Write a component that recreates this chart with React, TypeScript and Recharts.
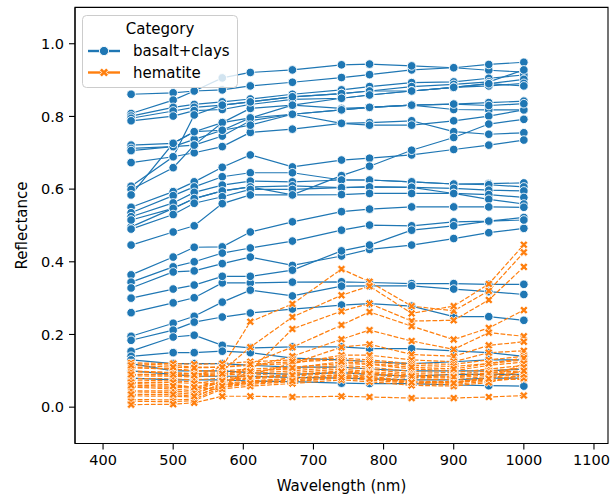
import React from "react";
import { LineChart, Line, XAxis, YAxis, ReferenceArea, Label } from "recharts";

// Reflectance spectra, one row per sample, sampled at the filter wavelengths below.
const WAVELENGTHS = [440, 500, 530, 570, 610, 670, 740, 780, 840, 900, 950, 1000];
const X_TICKS = [400, 500, 600, 700, 800, 900, 1000, 1100];
const Y_TICKS = [0, 0.2, 0.4, 0.6, 0.8, 1.0];
const CATEGORIES = ["basalt+clays", "hematite"];

const BASALT_CLAYS: number[][] = [
  [0.861, 0.865, 0.870, 0.873, 0.884, 0.894, 0.907, 0.915, 0.928, 0.934, 0.927, 0.922],
  [0.808, 0.845, 0.870, 0.906, 0.921, 0.928, 0.942, 0.944, 0.939, 0.934, 0.943, 0.949],
  [0.801, 0.825, 0.833, 0.840, 0.848, 0.861, 0.873, 0.882, 0.893, 0.895, 0.905, 0.914],
  [0.795, 0.815, 0.825, 0.831, 0.840, 0.854, 0.863, 0.870, 0.882, 0.888, 0.895, 0.928],
  [0.788, 0.801, 0.816, 0.819, 0.833, 0.847, 0.850, 0.859, 0.870, 0.880, 0.890, 0.902],
  [0.721, 0.726, 0.758, 0.783, 0.822, 0.831, 0.822, 0.825, 0.831, 0.834, 0.838, 0.842],
  [0.712, 0.717, 0.737, 0.762, 0.796, 0.806, 0.818, 0.825, 0.831, 0.819, 0.818, 0.818],
  [0.706, 0.717, 0.721, 0.746, 0.788, 0.806, 0.781, 0.783, 0.788, 0.758, 0.751, 0.755],
  [0.673, 0.689, 0.700, 0.717, 0.756, 0.765, 0.781, 0.776, 0.776, 0.788, 0.801, 0.818],
  [0.608, 0.689, 0.804, 0.831, 0.840, 0.854, 0.863, 0.870, 0.870, 0.880, 0.884, 0.891],
  [0.599, 0.659, 0.721, 0.783, 0.796, 0.831, 0.850, 0.859, 0.870, 0.880, 0.890, 0.884],
  [0.584, 0.726, 0.758, 0.762, 0.776, 0.806, 0.818, 0.825, 0.831, 0.834, 0.830, 0.835],
  [0.550, 0.593, 0.620, 0.660, 0.694, 0.661, 0.680, 0.685, 0.694, 0.709, 0.721, 0.735],
  [0.496, 0.547, 0.574, 0.595, 0.606, 0.584, 0.637, 0.663, 0.707, 0.742, 0.779, 0.792],
  [0.535, 0.582, 0.606, 0.634, 0.645, 0.645, 0.625, 0.625, 0.620, 0.614, 0.615, 0.617],
  [0.524, 0.562, 0.591, 0.611, 0.622, 0.620, 0.625, 0.625, 0.620, 0.614, 0.612, 0.606],
  [0.515, 0.547, 0.574, 0.595, 0.606, 0.609, 0.604, 0.606, 0.605, 0.602, 0.597, 0.595],
  [0.490, 0.530, 0.561, 0.579, 0.599, 0.599, 0.604, 0.606, 0.605, 0.588, 0.585, 0.577],
  [0.446, 0.482, 0.499, 0.560, 0.584, 0.584, 0.585, 0.588, 0.588, 0.588, 0.572, 0.559],
  [0.364, 0.413, 0.440, 0.441, 0.482, 0.510, 0.538, 0.545, 0.551, 0.551, 0.551, 0.550],
  [0.344, 0.386, 0.400, 0.424, 0.438, 0.457, 0.487, 0.501, 0.499, 0.510, 0.512, 0.522],
  [0.328, 0.372, 0.375, 0.395, 0.413, 0.390, 0.416, 0.434, 0.446, 0.464, 0.480, 0.492],
  [0.260, 0.287, 0.301, 0.342, 0.342, 0.344, 0.345, 0.343, 0.340, 0.340, 0.338, 0.338],
  [0.195, 0.231, 0.250, 0.289, 0.322, 0.306, 0.333, 0.334, 0.334, 0.325, 0.318, 0.310],
  [0.184, 0.212, 0.234, 0.248, 0.259, 0.270, 0.281, 0.285, 0.278, 0.249, 0.249, 0.239],
  [0.300, 0.325, 0.336, 0.360, 0.360, 0.377, 0.430, 0.446, 0.487, 0.499, 0.512, 0.515],
  [0.154, 0.193, 0.198, 0.170, 0.163, 0.166, 0.166, 0.161, 0.161, 0.155, 0.150, 0.140],
  [0.140, 0.150, 0.150, 0.154, 0.150, 0.135, 0.130, 0.125, 0.120, 0.125, 0.130, 0.130],
  [0.130, 0.120, 0.120, 0.120, 0.115, 0.110, 0.110, 0.105, 0.100, 0.100, 0.100, 0.105],
  [0.120, 0.100, 0.100, 0.100, 0.095, 0.090, 0.095, 0.090, 0.085, 0.090, 0.090, 0.090],
  [0.100, 0.090, 0.085, 0.085, 0.085, 0.082, 0.080, 0.078, 0.075, 0.075, 0.080, 0.080],
  [0.080, 0.075, 0.075, 0.075, 0.072, 0.070, 0.066, 0.065, 0.065, 0.061, 0.059, 0.058],
];

const HEMATITE: number[][] = [
  [0.090, 0.088, 0.085, 0.111, 0.235, 0.284, 0.380, 0.345, 0.278, 0.265, 0.320, 0.426],
  [0.110, 0.105, 0.100, 0.100, 0.165, 0.248, 0.308, 0.333, 0.258, 0.278, 0.339, 0.447],
  [0.075, 0.072, 0.070, 0.060, 0.100, 0.215, 0.264, 0.285, 0.237, 0.239, 0.295, 0.386],
  [0.065, 0.062, 0.055, 0.047, 0.120, 0.165, 0.226, 0.262, 0.223, 0.186, 0.218, 0.267],
  [0.100, 0.095, 0.090, 0.085, 0.110, 0.140, 0.187, 0.212, 0.182, 0.159, 0.205, 0.195],
  [0.055, 0.050, 0.045, 0.070, 0.090, 0.120, 0.165, 0.173, 0.145, 0.140, 0.170, 0.180],
  [0.120, 0.115, 0.110, 0.110, 0.115, 0.120, 0.143, 0.143, 0.130, 0.125, 0.150, 0.155],
  [0.122, 0.120, 0.118, 0.120, 0.125, 0.130, 0.135, 0.130, 0.120, 0.118, 0.130, 0.140],
  [0.108, 0.105, 0.100, 0.100, 0.105, 0.110, 0.120, 0.118, 0.105, 0.100, 0.115, 0.124],
  [0.097, 0.095, 0.092, 0.095, 0.100, 0.105, 0.115, 0.110, 0.098, 0.095, 0.105, 0.115],
  [0.086, 0.085, 0.083, 0.088, 0.093, 0.100, 0.110, 0.105, 0.092, 0.090, 0.100, 0.107],
  [0.079, 0.078, 0.075, 0.080, 0.088, 0.095, 0.105, 0.098, 0.088, 0.085, 0.095, 0.100],
  [0.068, 0.068, 0.065, 0.075, 0.082, 0.090, 0.100, 0.095, 0.082, 0.080, 0.090, 0.097],
  [0.056, 0.055, 0.052, 0.070, 0.078, 0.085, 0.095, 0.090, 0.078, 0.075, 0.085, 0.090],
  [0.042, 0.040, 0.035, 0.065, 0.072, 0.080, 0.090, 0.085, 0.072, 0.070, 0.080, 0.085],
  [0.031, 0.030, 0.028, 0.060, 0.068, 0.075, 0.085, 0.080, 0.068, 0.067, 0.075, 0.077],
  [0.021, 0.020, 0.022, 0.055, 0.063, 0.070, 0.080, 0.075, 0.065, 0.062, 0.072, 0.080],
  [0.016, 0.015, 0.018, 0.050, 0.058, 0.065, 0.075, 0.070, 0.060, 0.058, 0.068, 0.090],
  [0.007, 0.008, 0.012, 0.030, 0.030, 0.028, 0.030, 0.028, 0.025, 0.025, 0.028, 0.032],
  [0.115, 0.110, 0.108, 0.110, 0.118, 0.125, 0.130, 0.125, 0.115, 0.112, 0.120, 0.130],
  [0.090, 0.090, 0.088, 0.092, 0.098, 0.108, 0.125, 0.120, 0.110, 0.105, 0.120, 0.135],
  [0.045, 0.045, 0.040, 0.062, 0.070, 0.078, 0.088, 0.082, 0.070, 0.068, 0.080, 0.120],
  [0.060, 0.058, 0.055, 0.072, 0.080, 0.088, 0.098, 0.092, 0.085, 0.083, 0.093, 0.110],
  [0.035, 0.035, 0.030, 0.058, 0.066, 0.072, 0.082, 0.078, 0.068, 0.066, 0.078, 0.100],
];

const BLUE = "#1f77b4";
const ORANGE = "#ff7f0e";
const FONT = "'DejaVu Sans', sans-serif";
const TICK_FONT = 14.5;

const WIDTH = 611;
const HEIGHT = 496;
const MARGIN = { top: 7.4, right: 3, bottom: 0, left: 0 };
const Y_AXIS_W = 75;
const X_AXIS_H = 52.5;
const PLOT_CX = Y_AXIS_W + (WIDTH - MARGIN.right - Y_AXIS_W) / 2;
const PLOT_CY = MARGIN.top + (HEIGHT - MARGIN.top - X_AXIS_H) / 2;

const toPoints = (row: number[]) => WAVELENGTHS.map((w, i) => ({ w, r: row[i] }));

// filled "X" marker: a plus rotated by 45 degrees
function xPolygon(cx: number, cy: number, a = 4.3, t = 1.45) {
  const pts = [
    [-t, -a], [t, -a], [t, -t], [a, -t], [a, t], [t, t],
    [t, a], [-t, a], [-t, t], [-a, t], [-a, -t], [-t, -t],
  ];
  return pts
    .map(([x, y]) => `${cx + (x - y) * Math.SQRT1_2},${cy + (x + y) * Math.SQRT1_2}`)
    .join(" ");
}

function XDot(props: any) {
  const { cx, cy } = props;
  if (cx == null || cy == null) return <g />;
  return <polygon points={xPolygon(cx, cy)} fill={ORANGE} stroke="#fff" strokeWidth={0.8} />;
}

// x tick label; the last one is kept inside the page edge
function XTick(props: any) {
  const { x, y, payload } = props;
  const label = String(payload.value);
  const half = label.length * 0.318 * TICK_FONT;
  const over = x + half - (WIDTH - 1);
  const tx = over > 0 ? x - over : x;
  return (
    <text x={tx} y={y} dy="0.71em" textAnchor="middle" fontSize={TICK_FONT} fontFamily={FONT} fill="#000">
      {label}
    </text>
  );
}

function LegendBox() {
  return (
    <svg
      width={157}
      height={74}
      style={{ position: "absolute", left: 82, top: 15, overflow: "visible" }}
    >
      <rect x={0.5} y={0.5} width={155} height={72} rx={4} fill="#fff" fillOpacity={0.8} stroke="#cccccc" />
      <text x={78} y={14} textAnchor="middle" dominantBaseline="central" fontSize={15} fontFamily={FONT} fill="#000">
        Category
      </text>
      <line x1={6} x2={38} y1={36} y2={36} stroke={BLUE} strokeWidth={2.4} />
      <circle cx={22} cy={36} r={4.6} fill={BLUE} stroke="#fff" strokeWidth={0.9} />
      <text x={51} y={36} dominantBaseline="central" fontSize={15} fontFamily={FONT} fill="#000">
        {CATEGORIES[0]}
      </text>
      <line x1={6} x2={38} y1={57.5} y2={57.5} stroke={ORANGE} strokeWidth={2.4} />
      <polygon points={xPolygon(22, 57.5, 4.8, 1.6)} fill={ORANGE} stroke="#fff" strokeWidth={0.9} />
      <text x={51} y={57.5} dominantBaseline="central" fontSize={15} fontFamily={FONT} fill="#000">
        {CATEGORIES[1]}
      </text>
    </svg>
  );
}

export default function App() {
  const tick = { fontSize: TICK_FONT, fill: "#000", fontFamily: FONT };
  return (
    <div style={{ position: "absolute", left: 0, top: 0, width: WIDTH, height: HEIGHT, fontFamily: FONT, background: "#fff" }}>
      <LineChart width={WIDTH} height={HEIGHT} margin={MARGIN}>
        <XAxis
          type="number"
          dataKey="w"
          domain={[360, 1120]}
          ticks={X_TICKS}
          allowDataOverflow
          height={X_AXIS_H}
          tick={<XTick />}
          tickSize={6}
          tickMargin={5}
          axisLine={{ stroke: "#000", strokeWidth: 1.1 }}
          tickLine={{ stroke: "#000", strokeWidth: 1.1 }}
        >
          <Label
            content={() => (
              <text x={PLOT_CX} y={486} textAnchor="middle" dominantBaseline="central" fontSize={15} fontFamily={FONT} fill="#000">
                Wavelength (nm)
              </text>
            )}
          />
        </XAxis>
        <YAxis
          type="number"
          domain={[-0.1, 1.1]}
          ticks={Y_TICKS}
          allowDataOverflow
          width={Y_AXIS_W}
          tick={tick}
          tickSize={6}
          tickMargin={5}
          tickFormatter={(v: number) => v.toFixed(1)}
          axisLine={{ stroke: "#000", strokeWidth: 1.1 }}
          tickLine={{ stroke: "#000", strokeWidth: 1.1 }}
        >
          <Label
            content={() => (
              <text
                x={22}
                y={PLOT_CY}
                transform={`rotate(-90, 22, ${PLOT_CY})`}
                textAnchor="middle"
                dominantBaseline="central"
                fontSize={15}
                fontFamily={FONT}
                fill="#000"
              >
                Reflectance
              </text>
            )}
          />
        </YAxis>
        <ReferenceArea
          x1={360}
          x2={1120}
          y1={-0.1}
          y2={1.1}
          fill="none"
          fillOpacity={0}
          stroke="#000"
          strokeWidth={1.1}
          ifOverflow="visible"
        />
        {BASALT_CLAYS.map((row, i) => (
          <Line
            key={`b${i}`}
            data={toPoints(row)}
            dataKey="r"
            type="linear"
            stroke={BLUE}
            strokeWidth={1.2}
            dot={{ r: 4.3, fill: BLUE, stroke: "#fff", strokeWidth: 0.9 }}
            activeDot={false}
            isAnimationActive={false}
          />
        ))}
        {HEMATITE.map((row, i) => (
          <Line
            key={`h${i}`}
            data={toPoints(row)}
            dataKey="r"
            type="linear"
            stroke={ORANGE}
            strokeWidth={1.2}
            strokeDasharray="4.8 1.8"
            dot={(p: any) => <XDot key={`h${i}-${p.index}`} {...p} />}
            activeDot={false}
            isAnimationActive={false}
          />
        ))}
      </LineChart>
      <LegendBox />
    </div>
  );
}
